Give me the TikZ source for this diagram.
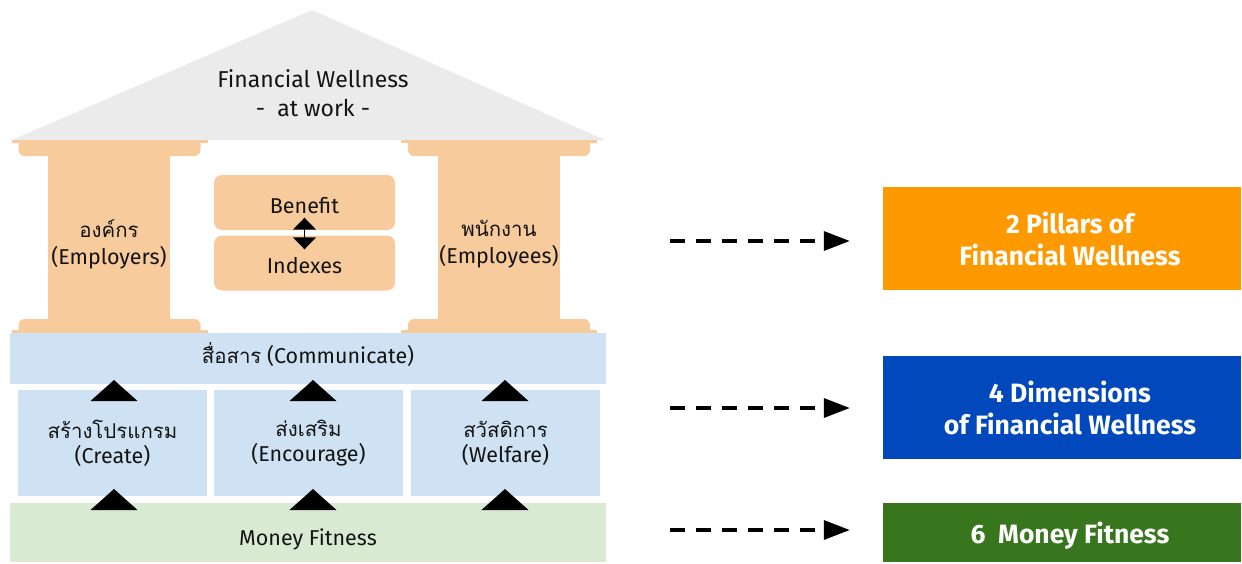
\documentclass[tikz,border=0pt]{standalone}
\usepackage{fontspec}
\setmainfont{Fira Sans}
\newfontfamily\thai[Script=Thai,Scale=0.95]{Loma}
\usetikzlibrary{arrows.meta}
\definecolor{roofc}{HTML}{EBEBEB}
\definecolor{pilc}{HTML}{F8CB9D}
\definecolor{lblue}{HTML}{CFE2F3}
\definecolor{lgreen}{HTML}{D9EAD3}
\definecolor{orangeb}{HTML}{FF9900}
\definecolor{blueb}{HTML}{0048BC}
\definecolor{greenb}{HTML}{38761D}
\definecolor{txt}{HTML}{141414}
\tikzset{
  lab/.style={font=\fontsize{21.5}{25}\selectfont, text=txt, align=center, inner sep=0pt},
  shaft/.style={fill=pilc, minimum width=122pt, minimum height=165pt, inner sep=0pt},
  pbox/.style={fill=pilc, rounded corners=8pt, minimum width=181pt, minimum height=55pt, inner sep=0pt},
  bluebar/.style={fill=lblue, inner sep=0pt},
  greenbar/.style={fill=lgreen, inner sep=0pt},
  rbox/.style={minimum width=358pt, inner sep=0pt},
  rtext/.style={inner sep=0pt, text=white, align=center, font=\fontsize{26.5}{32}\selectfont\bfseries},
  darrow/.style={line width=3.5pt, dash pattern=on 15pt off 11pt, -{Triangle[length=26pt,width=19pt]}, shorten >=33pt},
  tri/.style={fill=black},
}
\begin{document}
\begin{tikzpicture}[x=1pt,y=-1pt]
\useasboundingbox (0,0) rectangle (1242,563);
% roof
\fill[roofc] (12,140) -- (312,10) -- (605,140) -- cycle;
\node[lab, font=\fontsize{23}{29}\selectfont] (roof) at (313,93.5) {Financial Wellness\\- \ at work -};
% pillars
\foreach \cx in {109.5,499}{
  \fill[pilc] (\cx-98,140) rectangle (\cx+98,143);
  \fill[pilc] (\cx-91,143) {[rounded corners=6pt] -- (\cx-91,156) -- (\cx+91,156)} -- (\cx+91,143) -- cycle;
  \fill[pilc] (\cx-91,333) {[rounded corners=6pt] -- (\cx-91,319) -- (\cx+91,319)} -- (\cx+91,333) -- cycle;
  \fill[pilc] (\cx-98,330) rectangle (\cx+98,334);
}
\node[shaft] (emp) at (109,237.5) {};
\node[shaft] (emo) at (499,237.5) {};
\node[lab, font=\fontsize{21.5}{27}\selectfont] (empt) at ([yshift=-7pt]emp.center) {{\thai องค์กร}\\(Employers)};
\node[lab, font=\fontsize{21.5}{27}\selectfont] (emot) at ([yshift=-7pt]emo.center) {{\thai พนักงาน}\\(Employees)};
% benefit / indexes
\node[pbox] (ben) at (304.5,202.5) {};
\node[pbox] (idx) at (304.5,263) {};
\node[lab] (bent) at ([yshift=-3pt]ben.center) {Benefit};
\node[lab] (idxt) at ([yshift=-3pt]idx.center) {Indexes};
\draw[line width=1.5pt, {Triangle[length=12pt,width=23pt]}-{Triangle[length=12pt,width=23pt]}] ([yshift=12.5pt]ben.south) -- ([yshift=-14pt]idx.north);
% communicate bar
\node[bluebar, minimum width=596pt, minimum height=51pt] (com) at (308,358.5) {};
\node[lab] (comt) at ([yshift=4pt]com.center) {{\thai สื่อสาร} (Communicate)};
% three boxes
\node[bluebar, minimum width=189pt, minimum height=106pt] (cre) at (112.5,443) {};
\node[bluebar, minimum width=189pt, minimum height=106pt] (enc) at (308.5,443) {};
\node[bluebar, minimum width=189pt, minimum height=106pt] (wel) at (505.5,443) {};
\node[lab] (cret) at ([yshift=0pt]cre.center) {{\thai สร้างโปรแกรม}\\(Create)};
\node[lab] (enct) at ([yshift=0pt]enc.center) {{\thai ส่งเสริม}\\(Encourage)};
\node[lab] (welt) at ([yshift=0pt]wel.center) {{\thai สวัสดิการ}\\(Welfare)};
% money fitness
\node[greenbar, minimum width=596pt, minimum height=59pt] (mon) at (308,532.5) {};
\node[lab] (mont) at ([yshift=-6.5pt]mon.center) {Money Fitness};
% triangles
\foreach \tx in {114,313,505}{
  \fill[tri] (\tx-23.5,401) -- (\tx,380) -- (\tx+23.5,401) -- cycle;
  \fill[tri] (\tx-23.5,510) -- (\tx,489) -- (\tx+23.5,510) -- cycle;
}
% right boxes
\node[rbox, fill=orangeb, minimum height=103pt] (p2) at (1062,238.5) {};
\node[rbox, fill=blueb, minimum height=103pt] (d4) at (1062,407.5) {};
\node[rbox, fill=greenb, minimum height=59pt] (m6) at (1062,532.5) {};
\node[rtext] (p2t) at ([xshift=8pt]p2.center) {2 Pillars of\\Financial Wellness};
\node[rtext] (d4t) at ([xshift=8pt]d4.center) {4 Dimensions\\of Financial Wellness};
\node[rtext] (m6t) at ([xshift=8pt,yshift=-3pt]m6.center) {6 \ Money Fitness};
% arrows
\coordinate (a1) at (670,241);
\coordinate (a2) at (670,408);
\coordinate (a3) at (670,530);
\draw[darrow] (a1) -- (a1 -| p2.west);
\draw[darrow] (a2) -- (a2 -| d4.west);
\draw[darrow] (a3) -- (a3 -| m6.west);
\end{tikzpicture}
\end{document}
